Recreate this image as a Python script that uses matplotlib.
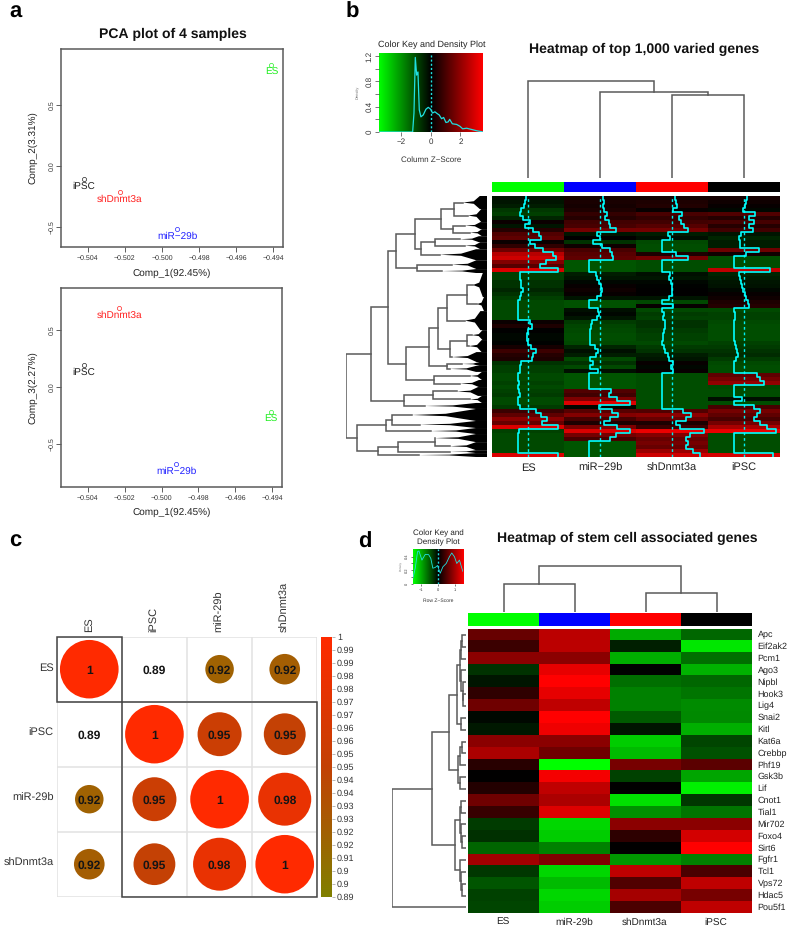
import numpy as np
import matplotlib
matplotlib.use("Agg")
import matplotlib.pyplot as plt
from matplotlib.colors import LinearSegmentedColormap
from matplotlib.patches import Circle, Rectangle, Polygon

W, H = 787, 927
plt.rcParams['font.family'] = ['Liberation Sans', 'DejaVu Sans']
plt.rcParams['text.hinting'] = 'none'
plt.rcParams['text.hinting_factor'] = 1

# ---- panel a
samples = ['ES', 'iPSC', 'shDnmt3a', 'miR\u221229b']
sample_colors = ['#22ee22', '#222222', '#ff2020', '#2020ff']
comp1 = [-0.4941, -0.5042, -0.50228, -0.49919]
comp2 = [0.83, -0.107, -0.213, -0.516]
comp3 = [-0.22, 0.19, 0.69, -0.67]
comp1_ticks = [-0.504, -0.502, -0.500, -0.498, -0.496, -0.494]
pca_y_ticks = [-0.5, 0.0, 0.5]

# ---- panel b
cols_b = ['ES', 'miR\u221229b', 'shDnmt3a', 'iPSC']
bar_colors = ['#00ff00', '#0000ff', '#ff0000', '#000000']
es_z = [-0.2, -0.3, -0.4, -0.75, -0.85, -0.5, 0.15, -0.3, 0.5, 1.1, 1.3, 0.15, 0.65, 1.5, 2.5, 2.8, 1.8, 1.2, 3.0,
        -0.85, -0.85, -0.7, -0.7, -0.5, -0.7, -0.85, -1.0, -1.0, -1.0, -1.0, -1.0, 0.15, 0.4, 0.0, -0.1, -0.1,
        -0.05, 0.3, 0.8, 0.5, 0.4, -0.7, -0.85, -0.85, -1.0, -1.0, -0.9, -1.0, -0.9, -0.8, -1.0, -1.0, -0.8,
        0.8, 1.3, 1.9, 1.4, 3.0, -0.9, -1.0, -1.0, -1.0, -1.0, -1.0, 3.0]
mir_z = [0.3, 0.35, 0.3, 0.4, 0.7, 0.5, 0.9, 1.0, 1.6, -0.3, 0.0, -0.7, 0.2, 1.0, 1.2, 1.3, -1.15, -1.15, -1.15,
         -0.4, -0.3, -0.1, 0.1, 0.2, 0.1, -0.3, -1.1, -1.1, -0.2, -0.1, -0.3, -0.8, -0.95, -1.0, -1.05, -1.05,
         -1.0, -0.5, -0.2, -0.4, -1.0, -0.7, -1.0, -0.2, -1.15, -1.15, -1.15, -1.15, 1.1, 0.9, 1.7, 3.0, -0.1,
         1.2, 1.8, 1.0, 0.4, 1.7, 3.0, 1.6, 1.0, -1.15, -1.15, -1.15, -1.15]
sh_z = [0.3, 0.4, 0.45, 0.1, 1.0, 0.7, 0.9, 1.15, 1.6, -0.4, -0.2, -1.0, -1.05, -1.05, 0.4, 1.6, -1.05, -1.05, -1.05,
        -0.2, -0.3, -0.1, -0.05, 0.0, 0.0, -0.3, -1.0, 0.1, -1.0, -0.8, -0.9, -0.7, -0.7, -0.8, -0.9, -0.9,
        -1.0, -0.8, -0.7, -0.4, -0.3, 0.1, -0.1, 0.1, -1.05, -1.05, -1.05, -1.05, -1.05, -1.05, -1.05, -1.05, -1.05,
        1.1, 1.9, 1.4, 0.4, 0.8, 3.2, 1.8, 1.4, 1.6, 1.4, 2.1, 2.8]
ipsc_z = [0.3, 0.2, 0.1, -0.1, 1.1, 0.5, 0.95, 0.5, 0.9, -0.3, -0.5, -0.4, -0.4, 1.5, 0.2, -1.05, -1.05, -1.05, 2.6,
          -0.5, -0.4, -0.3, -0.25, -0.1, 0.1, 0.2, 0.4, 0.5, -1.0, -0.9, -0.9, -1.0, -1.05, -1.05, -1.05, -1.05,
          -0.9, -0.8, -0.7, -0.6, -0.8, -1.0, -1.05, -1.05, 1.3, 1.6, 2.0, -1.0, -1.05, -1.05, -0.2, -1.05, 1.0,
          1.6, 1.3, 1.0, 1.6, 2.3, 3.2, -1.05, -1.05, -1.05, -1.05, -1.05, 2.9]
density_b_x = [-3.5, -1.24, -1.15, -1.06, -0.97, -0.88, -0.79, -0.68, -0.52, -0.34, -0.18, -0.02, 0.11, 0.27, 0.43,
               0.56, 0.72, 0.86, 1.02, 1.17, 1.27, 1.45, 1.74, 1.97, 2.15, 2.42, 2.76, 3.1, 3.55]
density_b_y = [0, 0, 0.3, 1.18, 0.9, 0.95, 0.35, 0.24, 0.27, 0.36, 0.39, 0.36, 0.3, 0.32, 0.29,
               0.27, 0.21, 0.23, 0.15, 0.16, 0.2, 0.13, 0.12, 0.09, 0.05, 0.06, 0.04, 0.02, 0]
# dendrograms: (height, child, child) or (height, genes) for a collapsed cluster
col_tree_b = (97, (0, 1), (86, (0, 1), (83, (0, 1), (0, 1))))
row_tree_b = (141,
    (116,
     (99,
      (91,
       (72,
        (46, (33, (24, 50), (19, 50)), (34, (22, 27), (17, 27))),
        (66, (52, (27, 23), (22, 27)), (47, 42))),
       (70, (35, 34), (45, 15))),
      (81,
       (58,
        (49,
         (40, (20, (14, 92), (10, 54)), (22, 73)),
         (37, (20, (15, 38), (18, 46)), (35, 38))),
        (40, (25, 15), (37, 23))),
       (53, (17, 31), (27, 27)))),
     (83, (54, (30, 34), (17, 27)), (62, 23))),
    (130,
     (101, (95, (75, 46), (67, 27)), (56, 23)),
     (109, (89, (52, (52, 31), (37, 31)), (37, 11)), (68, 15))))

# ---- panel c
corr_names = ['ES', 'iPSC', 'miR-29b', 'shDnmt3a']
corr = [[1.00, 0.89, 0.916, 0.92],
        [0.89, 1.00, 0.952, 0.946],
        [0.916, 0.952, 1.00, 0.98],
        [0.92, 0.946, 0.98, 1.00]]
corr_ticks = ['0.89', '0.9', '0.9', '0.91', '0.92', '0.92', '0.93', '0.93', '0.94', '0.94', '0.95',
              '0.95', '0.96', '0.96', '0.97', '0.97', '0.98', '0.98', '0.99', '0.99', '1']

# ---- panel d
cols_d = ['ES', 'miR-29b', 'shDnmt3a', 'iPSC']
genes = ['Apc', 'Eif2ak2', 'Pcm1', 'Ago3', 'Nipbl', 'Hook3', 'Lig4', 'Snai2', 'Kitl', 'Kat6a', 'Crebbp', 'Phf19',
         'Gsk3b', 'Lif', 'Cnot1', 'Tial1', 'Mir702', 'Foxo4', 'Sirt6', 'Fgfr1', 'Tcl1', 'Vps72', 'Hdac5', 'Pou5f1']
es_d = [0.6, 0.35, 0.82, -0.3, -0.12, 0.27, 0.65, -0.05, -0.15, 0.82, 1.0, 0.24,
        0.0, 0.2, 0.65, 0.32, -0.35, -0.29, -0.59, 0.94, -0.32, -0.5, -0.38, -0.41]
mir_d = [1.1, 1.1, 0.82, 1.35, 1.5, 1.35, 1.12, 1.5, 1.4, 0.82, 0.65, -1.5,
         1.44, 1.12, 1.0, 1.29, -1.26, -1.2, -0.76, 0.76, -1.26, -1.09, -1.26, -1.2]
sh_d = [-1.0, -0.18, -1.03, -0.02, -0.65, -0.76, -0.76, -0.53, -0.12, -1.2, -1.09, 0.7,
        -0.38, 0.0, -1.32, -0.85, 0.82, 0.26, 0.0, -0.88, 1.12, 0.47, 0.97, 0.44]
ipsc_d = [-0.6, -1.35, -0.65, -1.05, -0.6, -0.68, -0.82, -0.8, -1.03, -0.41, -0.47, 0.53,
          -0.97, -1.41, -0.32, -0.68, 0.82, 1.24, 1.5, -0.76, 0.44, 1.12, 0.7, 1.12]
density_d_x = [-1.49, -1.35, -1.21, -1.13, -0.95, -0.75, -0.55, -0.42, -0.3, -0.16, -0.02, 0.14, 0.3, 0.5, 0.69,
               0.83, 0.99, 1.13, 1.29, 1.43, 1.5]
density_d_y = [0.08, 0.23, 0.475, 0.485, 0.35, 0.435, 0.43, 0.375, 0.23, 0.24, 0.27, 0.155, 0.25, 0.3, 0.4,
               0.455, 0.4, 0.3, 0.35, 0.23, 0.18]
col_tree_d = (46, (28, (0, 1), (0, 1)), (19, (0, 1), (0, 1)))
L = (0, 1)
row_tree_d = (74,
    (34,
     (17,
      (9,
       (6.5,
        (5.5, (4, L, L), L),
        (5.5, L, (3.5, L, (3.5, L, L)))),
       (5, L, L)),
      (8, (6, (4, L, L), L), (6, L, L))),
     (11,
      (6, (5, L, L), (5.5, L, (4, L, L))),
      (6, L, (5, L, (4.5, L, L))))),
    L)

heat_cmap = LinearSegmentedColormap.from_list('gbr', ['#00ff00', '#000000', '#ff0000'])
corr_cmap = LinearSegmentedColormap.from_list('corr', [(0, '#808000'), (0.5, '#c34105'), (1, '#ff2a00')])
GREY = '#5a5a5a'

fig = plt.figure(figsize=(W / 100, H / 100), dpi=100, facecolor='white')


def px_axes(l, t, r, b):
    return fig.add_axes([l / W, 1 - b / H, (r - l) / W, (b - t) / H])


def txt(x, y, s, **kw):
    kw.setdefault('ha', 'center')
    kw.setdefault('va', 'center')
    fig.text(x / W, 1 - y / H, s, **kw)


def draw_tree(ax, node, pos, vertical):
    # returns (y position of node, height, next free leaf position)
    if len(node) == 2:
        h, n = node
        top, bot = pos, pos + n
        mid = pos + n / 2
        if h > 0:
            # collapsed cluster: thin spear from the stem into the solid block of leaves
            base = min(0.3 * h, 11)
            waist = n * 0.1
            ax.add_patch(Polygon([(h, mid), (0.55 * h, mid - waist), (base, top), (0, top),
                                  (0, bot), (base, bot), (0.55 * h, mid + waist)],
                                 fc='black', ec='none'))
        return mid, h, bot
    h, a, b = node
    ya, ha, pos = draw_tree(ax, a, pos, vertical)
    yb, hb, pos = draw_tree(ax, b, pos, vertical)
    xs, ys = [ha, h, h, hb], [ya, ya, yb, yb]
    if vertical:
        ax.plot(ys, xs, color=GREY, lw=1.1, solid_joinstyle='miter')
    else:
        ax.plot(xs, ys, color=GREY, lw=1.1, solid_joinstyle='miter')
    return (ya + yb) / 2, h, pos


def leaf_total(node):
    if len(node) == 2:
        return node[1]
    return leaf_total(node[1]) + leaf_total(node[2])


def pca_panel(l, t, r, b, ylim, yvals, ylabel, xlabel_y):
    ax = px_axes(l, t, r, b)
    for x, y, c, s in zip(comp1, yvals, sample_colors, samples):
        ax.plot([x], [y], 'o', mfc='none', mec=c, ms=3, mew=0.5)
        ax.annotate(s, (x, y), xytext=(0, -5.2), textcoords='offset points', ha='center', va='center',
                    color=c, fontsize=7.1)
    ax.set_xlim(-0.50544, -0.49348)
    ax.set_ylim(*ylim)
    ax.set_xticks(comp1_ticks)
    ax.set_xticklabels([f'{v:.3f}'.replace('-', '\u2212') for v in comp1_ticks], fontsize=4.7, color='#333333')
    ax.set_yticks(pca_y_ticks)
    ax.set_yticklabels([f'{v:.1f}'.replace('-', '\u2212') for v in pca_y_ticks], fontsize=4.7, rotation=90,
                       va='center', color='#333333')
    ax.tick_params(length=3.5, width=0.6, color='#444444', pad=2.5)
    ax.tick_params(axis='y', pad=1)
    for sp in ax.spines.values():
        sp.set_color(GREY)
        sp.set_linewidth(1.1)
    txt(33, (t + b) / 2, ylabel, rotation=90, fontsize=7.1, color='#222222')
    txt(172, xlabel_y, 'Comp_1(92.45%)', fontsize=7.1, color='#222222')


pca_panel(61, 49, 283, 247, (-0.664, 0.959), comp2, 'Comp_2(3.31%)', 273.5)
pca_panel(61, 288, 282, 487, (-0.873, 0.864), comp3, 'Comp_3(2.27%)', 512.5)
txt(173, 34, 'PCA plot of 4 samples', fontsize=9.8, fontweight='bold', color='#111111')


def key_panel(l, t, r, b, xlim, ylim, xs, ys, xticks, yticks, yminor, xlab, tick_fs, lab_fs, dens_x, dens_fs, tlen):
    ax = px_axes(l, t, r, b)
    grad = np.linspace(xlim[0], xlim[1], 256)[None, :]
    ax.imshow(grad, extent=[xlim[0], xlim[1], ylim[0], ylim[1]], aspect='auto', cmap=heat_cmap,
              vmin=xlim[0], vmax=xlim[1])
    ax.plot(xs, ys, color='#20e0e0', lw=0.9 if tlen > 2 else 0.6)
    ax.axvline(0, color='#20e0e0', lw=1, ls=(0, (1.5, 1.5)))
    ax.set_xlim(*xlim)
    ax.set_ylim(*ylim)
    ax.set_xticks(xticks)
    ax.set_xticklabels([str(v).replace('-', '\u2212') for v in xticks], fontsize=tick_fs, color='#333333')
    ax.set_yticks(yticks)
    ax.set_yticklabels([f'{v:g}' for v in yticks], fontsize=tick_fs, rotation=90, va='center', color='#333333')
    ax.set_yticks(yminor, minor=True)
    ax.tick_params(which='both', length=tlen, width=0.5, color='#444444', pad=1.5)
    for sp in ax.spines.values():
        sp.set_visible(False)
    txt((l + r) / 2, b + (28 if tlen > 2 else 17), xlab, fontsize=lab_fs, color='#333333')
    txt(dens_x, (t + b) / 2, 'Density', rotation=90, fontsize=dens_fs, color='#777777')


# ---- b
key_panel(379.3, 53, 483.3, 132, (-3.5, 3.55), (0, 1.25), density_b_x, density_b_y, [-2, 0, 2],
          [0, 0.4, 0.8, 1.2], [0.2, 0.6, 1.0], 'Column Z\u2212Score', 5.6, 6, 357.5, 3.2, 3)
txt(431.5, 45, 'Color Key and Density Plot', fontsize=6.4, color='#222222')
txt(644, 49.5, 'Heatmap of top 1,000 varied genes', fontsize=10, fontweight='bold', color='#111111')

ax = px_axes(492, 60, 780, 178)
draw_tree(ax, col_tree_b, 0, True)
ax.set_xlim(0, 4)
ax.set_ylim(0, 118)
ax.axis('off')

ax = px_axes(492, 182, 780, 192)
ax.imshow(np.arange(4)[None, :], aspect='auto', cmap=matplotlib.colors.ListedColormap(bar_colors))
ax.axis('off')

ax = px_axes(346, 196, 487, 457)
total = leaf_total(row_tree_b)
draw_tree(ax, row_tree_b, 0, False)
ax.set_xlim(141, 0)
ax.set_ylim(total, 0)
ax.axis('off')

ax = px_axes(492, 196, 780, 457)
heat_b = np.array([es_z, mir_z, sh_z, ipsc_z]).T
ax.imshow(heat_b, aspect='auto', cmap=heat_cmap, vmin=-3.5, vmax=3.5, extent=[0, 4, len(es_z), 0],
          interpolation='nearest')
rows = np.arange(len(es_z))
for i in range(4):
    ax.axvline(i + 0.5, color='#00f0f0', lw=1, ls=(0, (2, 2)))
    ax.plot(i + 0.5 + np.repeat(heat_b[:, i], 2) * 10 / 72, np.column_stack([rows, rows + 1]).ravel(),
            color='#00ffff', lw=1.2)
ax.set_xlim(0, 4)
ax.set_ylim(len(es_z), 0)
ax.axis('off')
for i, name in enumerate(cols_b):
    txt(528 + 72 * i, 468, name, fontsize=7.7, color='#222222')

# ---- c
ax = px_axes(56.7, 636.7, 317.3, 896.7)
for i in range(5):
    ax.plot([i, i], [0, 4], color='#e2e2e2', lw=1.1, zorder=1)
    ax.plot([0, 4], [i, i], color='#e2e2e2', lw=1.1, zorder=1)
for i, row in enumerate(corr):
    for j, v in enumerate(row):
        r = 0.45 * np.sqrt((v - 0.89) / 0.11)
        if r > 0:
            ax.add_patch(Circle((j + 0.5, i + 0.5), r, fc=corr_cmap((v - 0.89) / 0.11), ec='none', zorder=3))
        ax.text(j + 0.5, i + 0.52, '1' if v == 1 else f'{v:.2f}', ha='center',
                va='center', fontsize=8.3, fontweight='bold', color='#151515', zorder=4)
ax.add_patch(Rectangle((0, 0), 1, 1, fc='none', ec='#444444', lw=1.1, zorder=5, clip_on=False))
ax.add_patch(Rectangle((1, 1), 3, 3, fc='none', ec='#444444', lw=1.1, zorder=5, clip_on=False))
ax.set_xlim(0, 4)
ax.set_ylim(4, 0)
ax.axis('off')
for i, name in enumerate(corr_names):
    txt(53.5, 668 + 65 * i, name, ha='right', fontsize=8.2, color='#333333')
    txt(89 + 65.2 * i, 632, name, rotation=90, va='bottom', fontsize=8.2, color='#333333')

ax = px_axes(321, 636.7, 332, 896.7)
ax.imshow(np.linspace(1, 0, 256)[:, None], aspect='auto', cmap=corr_cmap, extent=[0, 1, 0.89, 1], vmin=0, vmax=1)
ax.set_xticks([])
ax.set_yticks(np.linspace(0.89, 1, len(corr_ticks)))
ax.set_yticklabels(corr_ticks, fontsize=6.3, color='#333333')
ax.yaxis.tick_right()
ax.tick_params(length=2, width=0.5, color='#999999', pad=1.5)
for sp in ax.spines.values():
    sp.set_visible(False)

# ---- d
key_panel(412.7, 549, 463, 583.7, (-1.5, 1.5), (0, 0.514), density_d_x, density_d_y, [-1, 0, 1],
          [0, 0.2, 0.4], [0.1, 0.3], 'Row Z\u2212Score', 3, 3.6, 400.5, 2.2, 1.5)
txt(438, 538, 'Color Key and\nDensity Plot', fontsize=6, color='#222222', linespacing=1.25)
txt(627, 538, 'Heatmap of stem cell associated genes', fontsize=10, fontweight='bold', color='#111111')

ax = px_axes(468.3, 555, 752.3, 611.7)
draw_tree(ax, col_tree_d, 0, True)
ax.set_xlim(0, 4)
ax.set_ylim(0, 56.7)
ax.axis('off')

ax = px_axes(468.3, 613.3, 752.3, 626.3)
ax.imshow(np.arange(4)[None, :], aspect='auto', cmap=matplotlib.colors.ListedColormap(bar_colors))
ax.axis('off')

ax = px_axes(392, 629, 466, 913.3)
draw_tree(ax, row_tree_d, 0, False)
ax.set_xlim(74, 0)
ax.set_ylim(len(genes), 0)
ax.axis('off')

ax = px_axes(468.3, 629, 752.3, 913.3)
ax.imshow(np.array([es_d, mir_d, sh_d, ipsc_d]).T, aspect='auto', cmap=heat_cmap, vmin=-1.5, vmax=1.5,
          interpolation='nearest')
ax.axis('off')
row_h = (913.3 - 629) / len(genes)
for i, g in enumerate(genes):
    txt(757.5, 629 + row_h * (i + 0.5), g, ha='left', fontsize=6.2, color='#222222')
for i, name in enumerate(cols_d):
    txt(503 + 71 * i, 922, name, fontsize=7, color='#222222')

# panel letters
for s, x, y in [('a', 9, 18), ('b', 346, 18), ('c', 9, 547), ('d', 358, 548)]:
    fig.text(x / W, 1 - y / H, s, fontsize=16, fontweight='bold', ha='left', va='baseline', color='black')

fig.savefig('out.png', dpi=100)
